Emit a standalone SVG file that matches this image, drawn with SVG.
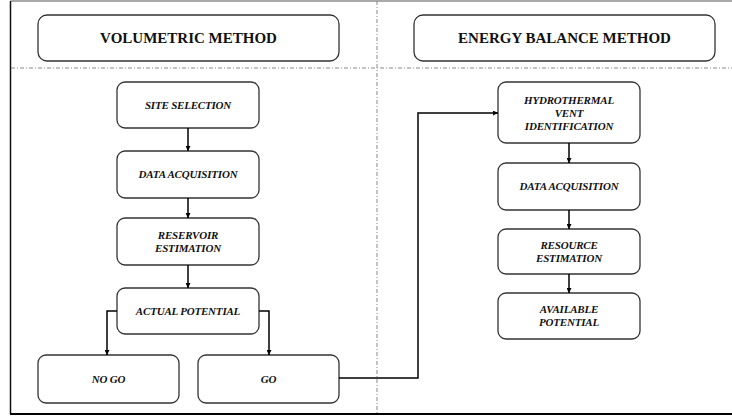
<svg xmlns="http://www.w3.org/2000/svg" width="732" height="417" viewBox="0 0 732 417">
<style>
.box{fill:#fff;stroke:#333;stroke-width:1.3}
.title{font-family:"Liberation Serif","Times New Roman","DejaVu Serif",serif;font-weight:bold;font-size:15px;fill:#111;text-anchor:middle}
.lbl{font-family:"Liberation Serif","Times New Roman","DejaVu Serif",serif;font-weight:bold;font-style:italic;font-size:11px;fill:#111;text-anchor:middle;letter-spacing:-0.2px}
.con{fill:none;stroke:#000;stroke-width:1.5}
.dash{fill:none;stroke:#888;stroke-width:1;stroke-dasharray:4 2 1 2}
</style>
<defs>
<marker id="ah" viewBox="0 0 10 10" refX="10" refY="5" markerWidth="5" markerHeight="5" orient="auto" markerUnits="userSpaceOnUse">
<path d="M0,0 L10,5 L0,10 z" fill="#000"/>
</marker>
</defs>
<rect x="0" y="0" width="732" height="417" fill="#fff"/>
<g id="frame">
<line x1="10.5" y1="1" x2="732" y2="1" stroke="#555" stroke-width="1.2"/>
<line x1="10.5" y1="1" x2="10.5" y2="414" stroke="#111" stroke-width="1.5"/>
<line x1="10" y1="414" x2="732" y2="414" stroke="#000" stroke-width="2"/>
<line class="dash" x1="11" y1="68" x2="732" y2="68"/>
<line class="dash" x1="377" y1="1" x2="377" y2="413"/>
</g>
<g id="vol-title"><rect class="box" x="38" y="15" width="301" height="46" rx="9"/><text class="title" x="188.5" y="43">VOLUMETRIC METHOD</text></g>
<g id="eb-title"><rect class="box" x="414" y="15" width="301" height="46" rx="9"/><text class="title" x="564.5" y="43">ENERGY BALANCE METHOD</text></g>
<g id="site"><rect class="box" x="117" y="82" width="142" height="46" rx="8"/><text class="lbl" x="188" y="109">SITE SELECTION</text></g>
<g id="data-l"><rect class="box" x="117" y="151" width="142" height="47" rx="8"/><text class="lbl" x="188" y="178">DATA ACQUISITION</text></g>
<g id="reservoir"><rect class="box" x="117" y="218" width="142" height="47" rx="8"/><text class="lbl" x="188" y="239">RESERVOIR</text><text class="lbl" x="188" y="252">ESTIMATION</text></g>
<g id="actual"><rect class="box" x="117" y="288" width="142" height="46" rx="8"/><text class="lbl" x="188" y="315">ACTUAL POTENTIAL</text></g>
<g id="nogo"><rect class="box" x="38" y="355" width="141" height="48" rx="8"/><text class="lbl" x="108.5" y="383">NO GO</text></g>
<g id="go"><rect class="box" x="198" y="355" width="141" height="48" rx="8"/><text class="lbl" x="268.5" y="383">GO</text></g>
<g id="hydro"><rect class="box" x="498" y="82" width="142" height="61" rx="8"/><text class="lbl" x="569" y="104">HYDROTHERMAL</text><text class="lbl" x="569" y="117">VENT</text><text class="lbl" x="569" y="130">IDENTIFICATION</text></g>
<g id="data-r"><rect class="box" x="498" y="163" width="142" height="47" rx="8"/><text class="lbl" x="569" y="190">DATA ACQUISITION</text></g>
<g id="resource"><rect class="box" x="498" y="229" width="142" height="45" rx="8"/><text class="lbl" x="569" y="249">RESOURCE</text><text class="lbl" x="569" y="262">ESTIMATION</text></g>
<g id="available"><rect class="box" x="498" y="293" width="142" height="46" rx="8"/><text class="lbl" x="569" y="313">AVAILABLE</text><text class="lbl" x="569" y="326">POTENTIAL</text></g>
<g id="connectors">
<path class="con" d="M188,128 V151" marker-end="url(#ah)"/>
<path class="con" d="M188,198 V218" marker-end="url(#ah)"/>
<path class="con" d="M188,265 V288" marker-end="url(#ah)"/>
<path class="con" d="M117,311 H107 V355" marker-end="url(#ah)"/>
<path class="con" d="M259,311 H269 V355" marker-end="url(#ah)"/>
<path class="con" d="M339,378 H418 V113 H498" marker-end="url(#ah)"/>
<path class="con" d="M569,143 V163" marker-end="url(#ah)"/>
<path class="con" d="M569,210 V229" marker-end="url(#ah)"/>
<path class="con" d="M569,274 V293" marker-end="url(#ah)"/>
</g>
</svg>
